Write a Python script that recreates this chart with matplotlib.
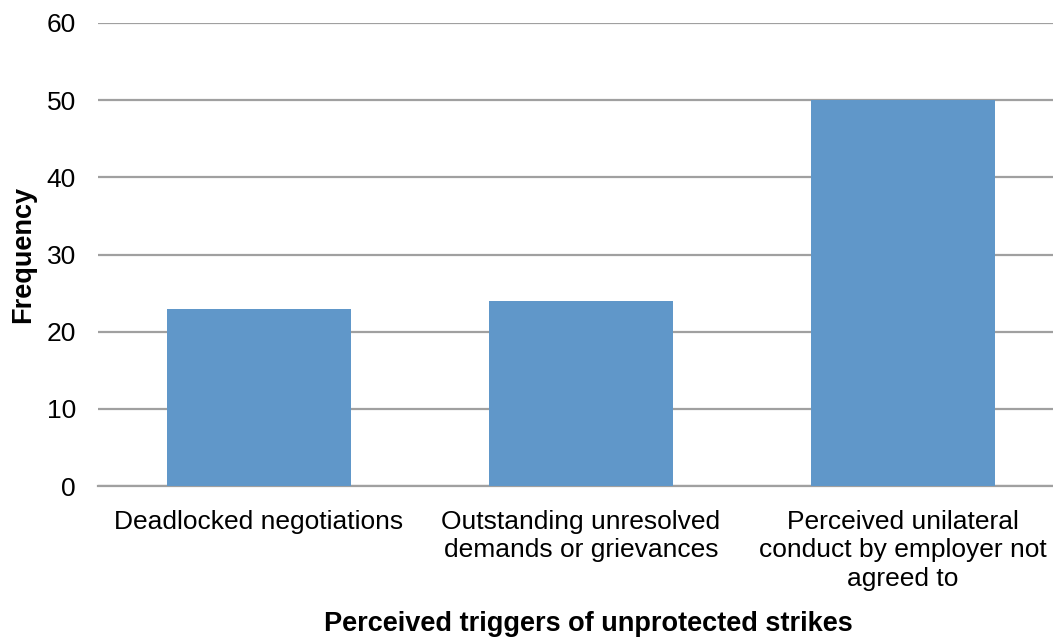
import matplotlib.pyplot as plt
import numpy as np

plt.rcParams["font.family"] = ["Liberation Sans", "DejaVu Sans"]

categories = [
    "Deadlocked negotiations",
    "Outstanding unresolved\ndemands or grievances",
    "Perceived unilateral\nconduct by employer not\nagreed to",
]
frequency = [23, 24, 50]
y_ticks = [0, 10, 20, 30, 40, 50, 60]

W, H = 1053, 639
fig = plt.figure(figsize=(W / 100, H / 100), dpi=100)
# plot area in pixels: left 98, right ~1064 (clipped by figure), y0 at 486, y60 at 23
ax = fig.add_axes([98 / W, 1 - 486 / H, (1064 - 98) / W, (486 - 23) / H])

x = np.arange(len(categories))
ax.bar(x, frequency, width=0.571, color="#6097C9", zorder=3)

ax.set_xlim(-0.5, len(categories) - 0.5)
ax.set_ylim(0, 60)
ax.set_yticks(y_ticks)
ax.set_xticks(x)
ax.set_xticklabels(categories, fontsize=19, linespacing=1.25)
ax.tick_params(axis="y", labelsize=19, length=0, pad=16)
ax.tick_params(axis="x", length=0, pad=17)

ax.grid(axis="y", color="#A0A0A0", linewidth=1.6, zorder=0)
for s in ["top", "right", "left"]:
    ax.spines[s].set_visible(False)
ax.spines["bottom"].set_color("#A0A0A0")
ax.spines["bottom"].set_linewidth(1.6)

fig.text(23 / W, 1 - 254 / H, "Frequency", rotation=90, fontsize=19.5,
         fontweight="bold", ha="center", va="center")
fig.text(588 / W, 1 - 624 / H, "Perceived triggers of unprotected strikes",
         fontsize=19.5, fontweight="bold", ha="center", va="center")

fig.savefig("out.png", dpi=100)
